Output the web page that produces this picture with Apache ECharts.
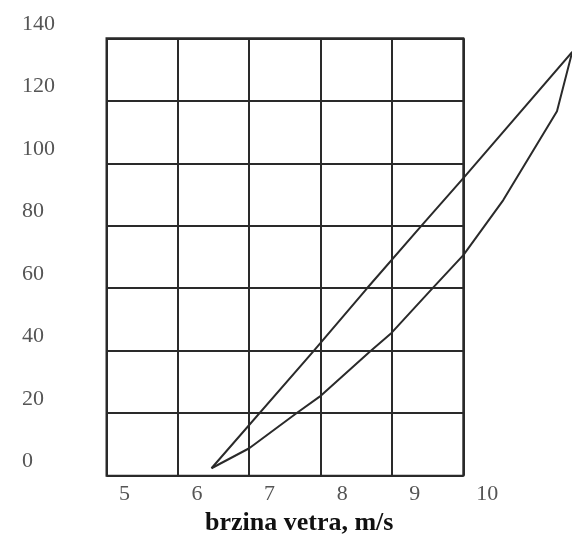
<!DOCTYPE html>
<html>
<head>
<meta charset="utf-8">
<script src="https://cdn.jsdelivr.net/npm/echarts@6/dist/echarts.min.js"></script>
<style>
html,body{margin:0;padding:0;background:#fff;}
#chart{width:572px;height:536px;}
</style>
</head>
<body>
<div id="chart"></div>
<script>
// Wind speed (m/s) vs power, two curves
const upperSpeed = [6.20, 7.60, 8.34, 9.10, 9.67, 11.17];
const upperPower = [-2.1, 35.2, 55.4, 75.7, 90.7, 131.1];
const lowerSpeed = [6.20, 6.72, 7.37, 7.69, 8.38, 8.68, 9.25, 9.67, 10.22, 10.96, 11.17];
const lowerPower = [-2.1, 4.3, 15.5, 20.8, 35.2, 41.2, 55.6, 66.1, 83.7, 112.1, 131.1];
const xTickLabels = [5, 6, 7, 8, 9, 10];
const yTickLabels = [0, 20, 40, 60, 80, 100, 120, 140];
const xTitle = 'brzina vetra, m/s';

const upper = upperSpeed.map((v, i) => [v, upperPower[i]]);
const lower = lowerSpeed.map((v, i) => [v, lowerPower[i]]);

const lineCol = '#2a2a2a';
const labelFont = { fontFamily: 'Liberation Serif, serif', fontSize: 22, color: '#555' };
const noAxis = { axisLine: { show: false }, axisTick: { show: false }, splitLine: { show: false } };

const chart = echarts.init(document.getElementById('chart'), null, { renderer: 'canvas' });
chart.setOption({
  backgroundColor: '#fff',
  animation: false,
  grid: [
    { left: 106.5, top: 38.3, width: 356.8, height: 437.4, show: true, borderColor: lineCol, borderWidth: 2,
      backgroundColor: 'transparent', containLabel: false, outerBoundsMode: 'none' },
    { left: 124.4, top: 24.1, width: 450, height: 500.1, show: false, containLabel: false, outerBoundsMode: 'none' },
    { left: 124.4, top: 0, width: 450, height: 461.7, show: false, containLabel: false, outerBoundsMode: 'none' }
  ],
  xAxis: [
    { type: 'value', gridIndex: 0, min: 0, max: 5, interval: 1,
      axisLine: { show: false }, axisTick: { show: false }, axisLabel: { show: false },
      splitLine: { show: true, lineStyle: { color: lineCol, width: 2 } } },
    Object.assign({ type: 'value', gridIndex: 1, min: 5, max: 11.2, interval: 1,
      axisLabel: { show: false } }, noAxis),
    Object.assign({ type: 'value', gridIndex: 2, min: 5, max: 11.2, interval: 1, position: 'bottom',
      axisLabel: Object.assign({ margin: 22, showMaxLabel: false,
        formatter: v => xTickLabels.includes(Math.round(v)) && Math.abs(v - Math.round(v)) < 1e-6 ? String(Math.round(v)) : '' }, labelFont) }, noAxis)
  ],
  yAxis: [
    { type: 'value', gridIndex: 0, min: 0, max: 7, interval: 1,
      axisLine: { show: false }, axisTick: { show: false }, axisLabel: { show: false },
      splitLine: { show: true, lineStyle: { color: lineCol, width: 2 } } },
    Object.assign({ type: 'value', gridIndex: 1, min: -20, max: 140, interval: 20,
      axisLabel: Object.assign({ margin: 102.4, align: 'left',
        formatter: v => yTickLabels.includes(v) ? String(v) : '' }, labelFont) }, noAxis),
    Object.assign({ type: 'value', gridIndex: 2, min: 0, max: 1, axisLabel: { show: false } }, noAxis)
  ],
  graphic: [
    { type: 'text', left: 205, top: 510,
      style: { text: xTitle, font: 'bold 26px "Liberation Serif", serif', fill: '#111' } }
  ],
  series: [
    { type: 'line', xAxisIndex: 1, yAxisIndex: 1, data: upper, showSymbol: false, clip: false,
      lineStyle: { color: lineCol, width: 2 } },
    { type: 'line', xAxisIndex: 1, yAxisIndex: 1, data: lower, showSymbol: false, clip: false,
      lineStyle: { color: lineCol, width: 2 } }
  ]
});
</script>
</body>
</html>
